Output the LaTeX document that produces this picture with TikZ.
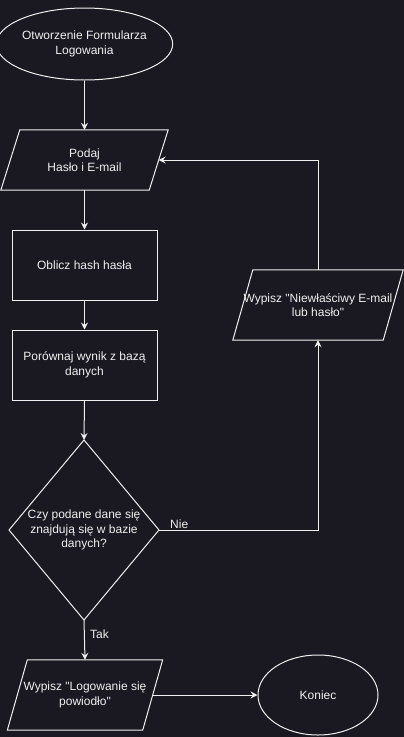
\documentclass[tikz,border=0pt]{standalone}
\usepackage{fontspec}
\setmainfont{Liberation Sans}[Ligatures=TeXOff]
\usetikzlibrary{arrows.meta,shapes.geometric}
\definecolor{bg}{RGB}{26,24,32}
\definecolor{ink}{RGB}{240,240,240}
\begin{document}
\begin{tikzpicture}[x=1pt,y=-1pt,
  every node/.style={text=ink,font=\fontsize{12}{14.5}\selectfont,align=center,inner sep=0pt},
  ln/.style={draw=ink,line width=1pt},
  arr/.style={ln,-{Stealth[length=7pt,width=7pt,inset=2.5pt]}},
  box/.style={ln,minimum width=#1,minimum height=70}]
\fill[bg] (0,0) rectangle (404,737);
\useasboundingbox (0,0) rectangle (404,737);

% start ellipse
\node[ellipse,ln,minimum width=141,minimum height=72] (start) at (84.5,44) {Otworzenie Formularza\\Logowania};

% Podaj parallelogram
\node[minimum width=148,minimum height=60] (podaj) at (84.5,160) {Podaj\\Hasło i E-mail};
\draw[ln] ([xshift=9.5]podaj.north west) -- ([xshift=9.5]podaj.north east) -- ([xshift=-9.5]podaj.south east) -- ([xshift=-9.5]podaj.south west) -- cycle;

% processes
\node[box=145] (oblicz) at (84.5,265) {Oblicz hash hasła};
\node[box=145] (porownaj) at (84.5,365) {Porównaj wynik z bazą\\danych};

% decision
\node (dec) at (84,530) {Czy podane dane się\\znajdują się w bazie\\danych?};
\coordinate (dectop) at (84,440);
\coordinate (decbot) at (84,620);
\coordinate (decleft) at (9,530);
\coordinate (decright) at (159,530);
\draw[ln] (dectop) -- (decright) -- (decbot) -- (decleft) -- cycle;

% error output
\node[minimum width=150,minimum height=70] (wn) at (318,305) {Wypisz "Niewłaściwy E-mail\\lub hasło"};
\draw[ln] ([xshift=10]wn.north west) -- ([xshift=10]wn.north east) -- ([xshift=-10]wn.south east) -- ([xshift=-10]wn.south west) -- cycle;

% success output
\node[minimum width=135,minimum height=70] (wl) at (85,695) {Wypisz "Logowanie się\\powiodło"};
\draw[ln] ([xshift=10]wl.north west) -- ([xshift=10]wl.north east) -- ([xshift=-10]wl.south east) -- ([xshift=-10]wl.south west) -- cycle;

% end
\node[ellipse,ln,minimum width=120,minimum height=80] (koniec) at (318,695) {Koniec};

% connectors
\draw[arr] (start.south) -- (podaj.north);
\draw[arr] (podaj.south) -- (oblicz.north);
\draw[arr] (oblicz.south) -- (porownaj.north);
\draw[arr] (porownaj.south) -- (dectop);
\draw[arr] (decright) -| (wn.south);
\node[anchor=west] (nie) at (170,524) {Nie};
\draw[arr] (wn.north) |- (podaj.east);
\draw[arr] (decbot) -- (wl.north);
\node[anchor=west] (tak) at (90,634) {Tak};
\draw[arr] (wl.east) -- (koniec.west);
\end{tikzpicture}
\end{document}
